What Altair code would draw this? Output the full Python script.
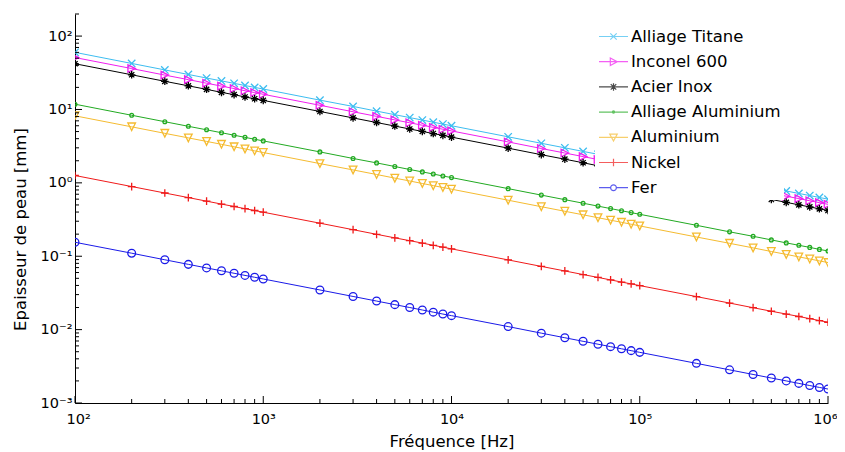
import altair as alt
import pandas as pd

freqs = [100, 200, 300, 400, 500, 600, 700, 800, 900,
         1000, 2000, 3000, 4000, 5000, 6000, 7000, 8000, 9000,
         10000, 20000, 30000, 40000, 50000, 60000, 70000, 80000, 90000,
         100000, 200000, 300000, 400000, 500000, 600000, 700000, 800000, 900000,
         1000000]

materials = ["Alliage Titane", "Inconel 600", "Acier Inox", "Alliage Aluminium",
             "Aluminium", "Nickel", "Fer"]

titane = [60, 42.4, 34.6, 30.0, 26.8, 24.5, 22.7, 21.2, 20.0,
          19.0, 13.4, 11.0, 9.49, 8.49, 7.75, 7.17, 6.71, 6.32,
          6.00, 4.24, 3.46, 3.00, 2.68, 2.45, 2.27, 2.12, 2.00,
          1.90, 1.34, 1.10, 0.949, 0.849, 0.775, 0.717, 0.671, 0.632,
          0.600]
inconel = [51, 36.1, 29.4, 25.5, 22.8, 20.8, 19.3, 18.0, 17.0,
           16.1, 11.4, 9.31, 8.06, 7.21, 6.58, 6.10, 5.70, 5.38,
           5.10, 3.61, 2.94, 2.55, 2.28, 2.08, 1.93, 1.80, 1.70,
           1.61, 1.14, 0.931, 0.806, 0.721, 0.658, 0.610, 0.570, 0.538,
           0.510]
inox = [42, 29.7, 24.2, 21.0, 18.8, 17.1, 15.9, 14.8, 14.0,
        13.3, 9.39, 7.67, 6.64, 5.94, 5.42, 5.02, 4.70, 4.43,
        4.20, 2.97, 2.42, 2.10, 1.88, 1.71, 1.59, 1.48, 1.40,
        1.33, 0.939, 0.767, 0.664, 0.594, 0.542, 0.502, 0.470, 0.443,
        0.420]
alliage_alu = [11.8, 8.34, 6.81, 5.90, 5.28, 4.82, 4.46, 4.17, 3.93,
               3.73, 2.64, 2.15, 1.87, 1.67, 1.52, 1.41, 1.32, 1.24,
               1.18, 0.834, 0.681, 0.590, 0.528, 0.482, 0.446, 0.417, 0.393,
               0.373, 0.264, 0.215, 0.187, 0.167, 0.152, 0.141, 0.132, 0.124,
               0.118]
aluminium = [8.2, 5.80, 4.73, 4.10, 3.67, 3.35, 3.10, 2.90, 2.73,
             2.59, 1.83, 1.50, 1.30, 1.16, 1.06, 0.980, 0.917, 0.864,
             0.820, 0.580, 0.473, 0.410, 0.367, 0.335, 0.310, 0.290, 0.273,
             0.259, 0.183, 0.150, 0.130, 0.116, 0.106, 0.0980, 0.0917, 0.0864,
             0.0820]
nickel = [1.26, 0.891, 0.727, 0.630, 0.563, 0.514, 0.476, 0.445, 0.420,
          0.398, 0.282, 0.230, 0.199, 0.178, 0.163, 0.151, 0.141, 0.133,
          0.126, 0.0891, 0.0727, 0.0630, 0.0563, 0.0514, 0.0476, 0.0445, 0.0420,
          0.0398, 0.0282, 0.0230, 0.0199, 0.0178, 0.0163, 0.0151, 0.0141, 0.0133,
          0.0126]
fer = [0.155, 0.110, 0.0895, 0.0775, 0.0693, 0.0633, 0.0586, 0.0548, 0.0517,
       0.0490, 0.0347, 0.0283, 0.0245, 0.0219, 0.0200, 0.0185, 0.0173, 0.0163,
       0.0155, 0.0110, 0.00895, 0.00775, 0.00693, 0.00633, 0.00586, 0.00548, 0.00517,
       0.00490, 0.00347, 0.00283, 0.00245, 0.00219, 0.00200, 0.00185, 0.00173, 0.00163,
       0.00155]

series = [titane, inconel, inox, alliage_alu, aluminium, nickel, fer]

x_major = [100, 1000, 10000, 100000, 1000000]
x_minor = [m * d for d in [100, 1000, 10000, 100000] for m in range(2, 10)]
y_major = [0.001, 0.01, 0.1, 1, 10, 100]
y_minor = [m * d for d in [0.001, 0.01, 0.1, 1, 10] for m in range(2, 10)] + [200]

colors = ["#3dbdf0", "#f01ef0", "#000000", "#22aa22", "#f5bb30", "#f01a1a", "#1a1ae8"]

marker_paths = [
    "M-1,-1L1,1M-1,1L1,-1",
    "M-1,-1L1,0L-1,1Z",
    "M-1,0L1,0M0,-1L0,1M-0.7,-0.7L0.7,0.7M-0.7,0.7L0.7,-0.7",
    "M0.5,0A0.5,0.5 0 1 1 -0.5,0A0.5,0.5 0 1 1 0.5,0Z",
    "M-1,-1L1,-1L0,1Z",
    "M-1,0L1,0M0,-1L0,1",
    "M1,0A1,1 0 1 1 -1,0A1,1 0 1 1 1,0Z",
]
marker_sizes = [55, 60, 60, 36, 70, 80, 50]
marker_widths = [1.3, 1.3, 1.6, 2.2, 1.3, 2.4, 1.3]

legend_paths = [
    "M-1,0L1,0M-0.22,-0.22L0.22,0.22M-0.22,0.22L0.22,-0.22",
    "M-1,0L1,0M-0.22,-0.26L0.26,0L-0.22,0.26Z",
    "M-1,0L1,0M0,-0.26L0,0.26M-0.19,-0.19L0.19,0.19M-0.19,0.19L0.19,-0.19",
    "M-1,0L1,0M0.08,0A0.08,0.08 0 1 1 -0.08,0A0.08,0.08 0 1 1 0.08,0Z",
    "M-1,0L1,0M-0.26,-0.22L0.26,-0.22L0,0.26Z",
    "M-1,0L1,0M0,-0.26L0,0.26",
    "M-1,0L-0.2,0M0.2,0L1,0M0.2,0A0.2,0.2 0 1 1 -0.2,0A0.2,0.2 0 1 1 0.2,0Z",
]

rows = []
for name, vals in zip(materials, series):
    for f, v in zip(freqs, vals):
        rows.append({"freq": f, "depth": v, "material": name})
df = pd.DataFrame(rows)

W, H = 753, 389
FONT = "DejaVu Sans"

xscale = alt.Scale(type="log", domain=[100, 1000000], nice=False)
yscale = alt.Scale(type="log", domain=[0.001, 200], nice=False)

x_label = ("datum.value < 500 ? '10\u00b2' : datum.value < 5000 ? '10\u00b3' : "
           "datum.value < 50000 ? '10\u2074' : datum.value < 500000 ? '10\u2075' : '10\u2076'")
y_label = ("datum.value < 0.005 ? '10\u207b\u00b3' : datum.value < 0.05 ? '10\u207b\u00b2' : "
           "datum.value < 0.5 ? '10\u207b\u00b9' : datum.value < 5 ? '10\u2070' : "
           "datum.value < 50 ? '10\u00b9' : '10\u00b2'")

x_axis = alt.Axis(values=x_major, labelExpr=x_label, title="Fréquence [Hz]",
                  ticks=False, grid=False, labelPadding=9, labelFontSize=14.5,
                  labelFlush=True, labelFlushOffset=9, labelOverlap=False,
                  titleY=43, titleBaseline="alphabetic")
y_axis = alt.Axis(values=y_major, labelExpr=y_label, title="Epaisseur de peau [mm]",
                  ticks=False, grid=False, labelPadding=3, labelFontSize=14.5,
                  labelFlush=False, labelOverlap=False,
                  titleX=-55, titleY=215, titleBaseline="middle", titleAngle=270)

X = alt.X("freq:Q", scale=xscale, axis=x_axis)
Y = alt.Y("depth:Q", scale=yscale, axis=y_axis)

color_scale = alt.Scale(domain=materials, range=colors)

lines = alt.Chart(df).mark_line(strokeWidth=1, clip=True).encode(
    x=X, y=Y,
    color=alt.Color("material:N", scale=color_scale, legend=None),
    detail="material:N",
)

points = alt.Chart(df).mark_point(filled=False, clip=True, opacity=1).encode(
    x=X, y=Y,
    color=alt.Color("material:N", scale=color_scale, legend=None),
    shape=alt.Shape("material:N", scale=alt.Scale(domain=materials, range=marker_paths), legend=None),
    size=alt.Size("material:N", scale=alt.Scale(domain=materials, range=marker_sizes), legend=None),
    strokeWidth=alt.StrokeWidth("material:N", scale=alt.Scale(domain=materials, range=marker_widths), legend=None),
)

xt_major = alt.Chart(pd.DataFrame({"freq": x_major})).mark_rule(color="black", strokeWidth=1).encode(
    x=X, y=alt.value(H), y2=alt.value(H - 7))
xt_minor = alt.Chart(pd.DataFrame({"freq": x_minor})).mark_rule(color="black", strokeWidth=1).encode(
    x=X, y=alt.value(H), y2=alt.value(H - 4))
yt_major = alt.Chart(pd.DataFrame({"depth": y_major})).mark_rule(color="black", strokeWidth=1).encode(
    y=Y, x=alt.value(0), x2=alt.value(7))
yt_minor = alt.Chart(pd.DataFrame({"depth": y_minor})).mark_rule(color="black", strokeWidth=1).encode(
    y=Y, x=alt.value(0), x2=alt.value(4))

leg_df = pd.DataFrame({"freq": [10000] * len(materials), "depth": [0.000001] * len(materials),
                       "material": materials})
leg = alt.Legend(title=None, orient="none", legendX=520, legendY=4, padding=3,
                 fillColor="white", labelFont=FONT, labelFontSize=16.5, labelColor="black",
                 labelOffset=2, symbolSize=841, symbolStrokeWidth=1.2, rowPadding=1.2,
                 symbolType="circle")
legend_layer = alt.Chart(leg_df).mark_point(filled=False, clip=True, size=841).encode(
    x=X, y=Y,
    color=alt.Color("material:N", scale=alt.Scale(domain=materials, range=colors), legend=leg),
    shape=alt.Shape("material:N", scale=alt.Scale(domain=materials, range=legend_paths), legend=leg),
)

base = alt.layer(lines, points, xt_major, xt_minor, yt_major, yt_minor)
chart = alt.layer(base, legend_layer).resolve_scale(
    color="independent", shape="independent"
).properties(
    width=W, height=H,
    padding={"left": 67, "top": 6, "right": 9, "bottom": 50},
    autosize=alt.AutoSizeParams(type="none"),
    background="white",
).configure_view(strokeWidth=0).configure_axis(
    domainColor="black", domainWidth=1, labelFont=FONT, labelColor="black",
    titleFont=FONT, titleFontSize=16.5, titleFontWeight="normal", titleColor="black",
)

chart.save("out.html", embed_options={"renderer": "svg", "actions": False})
